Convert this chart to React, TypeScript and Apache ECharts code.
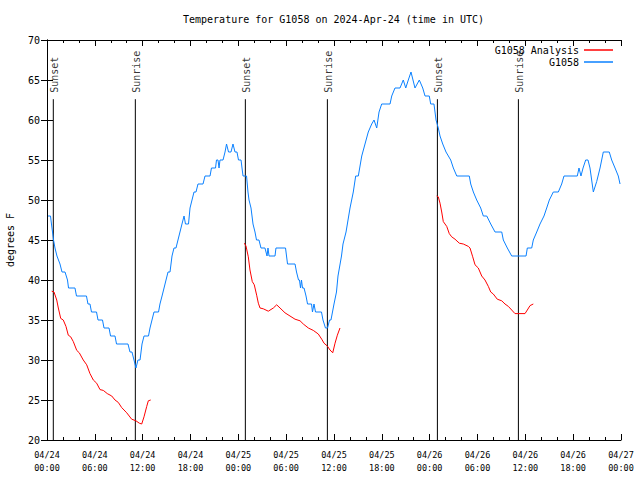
import React, { useEffect, useRef } from 'react';
import * as echarts from 'echarts';

// Observations (hours after 2024-04-24 00:00 UTC, degrees F)
const obsHours = [
  0.13, 0.44, 0.56, 0.69, 0.82, 1.0, 1.25, 1.63, 1.88, 2.26, 2.57, 2.7, 3.51, 3.7, 4.95, 5.14, 5.39, 5.58, 6.21, 6.4,
  6.96, 7.15, 7.78, 7.97, 8.53, 8.72, 10.16, 10.41, 10.66, 10.91, 11.16, 11.41, 11.67, 11.92, 12.17, 12.73, 12.92, 13.17, 13.42, 13.99,
  14.17, 14.43, 14.68, 14.93, 15.18, 15.43, 15.68, 15.93, 16.18, 16.43, 16.68, 16.93, 17.19, 17.37, 17.75, 17.94, 18.19, 18.44, 18.69, 18.94,
  19.57, 19.82, 20.45, 20.63, 21.14, 21.26, 21.45, 21.58, 21.7, 22.08, 22.33, 22.52, 22.77, 23.08, 23.33, 23.58, 23.83, 24.02, 24.34, 24.46,
  24.59, 25.03, 25.21, 25.34, 25.59, 25.84, 26.09, 26.28, 26.59, 26.84, 27.34, 27.6, 27.72, 27.85, 28.6, 28.72, 29.92, 30.17, 31.11, 31.3,
  31.55, 31.67, 31.8, 31.92, 32.05, 32.24, 32.49, 32.68, 33.18, 33.3, 33.49, 33.68, 34.43, 34.62, 34.93, 35.19, 35.44, 35.62, 36.0, 36.31,
  36.5, 36.94, 37.13, 37.51, 37.76, 38.01, 38.42, 38.72, 39.05, 39.48, 39.89, 40.3, 40.73, 41.02, 41.36, 41.65, 41.98, 43.03, 43.24, 43.65,
  44.28, 44.69, 45.0, 45.32, 45.66, 46.16, 46.7, 47.13, 47.42, 47.95, 48.13, 48.54, 48.8, 49.08, 49.3, 49.64, 50.05, 50.64, 50.97, 51.4,
  52.97, 53.15, 53.48, 53.9, 54.4, 54.73, 55.16, 55.66, 56.2, 57.04, 57.24, 57.74, 58.29, 60.09, 60.25, 60.8, 61.0, 61.43, 61.84, 62.34,
  62.68, 63.01, 63.51, 64.14, 64.56, 64.85, 66.52, 66.73, 66.98, 67.24, 67.57, 67.86, 68.11, 68.53, 68.95, 69.37, 69.78, 70.53, 70.83, 71.25,
  71.66, 71.88,
];
const obsTemps = [
  48, 48, 47, 46, 45, 44, 43, 42, 41, 41, 40, 39, 39, 38, 38, 37, 37, 36, 36, 35,
  35, 34, 34, 33, 33, 32, 32, 31, 31, 30, 29, 30, 30, 32, 33, 33, 34, 35, 36, 36,
  37, 38, 39, 40, 41, 41, 43, 44, 44, 45, 46, 47, 48, 47, 47, 49, 50, 51, 51, 52,
  52, 53, 53, 54, 54, 55, 55, 54, 55, 55, 56, 57, 56, 56, 57, 56, 56, 55, 55, 54,
  53, 53, 51, 50, 49, 47, 46, 45, 45, 44, 44, 43, 44, 43, 43, 44, 44, 42, 42, 41,
  40, 40, 39, 40, 39, 39, 38, 37, 37, 36, 37, 36, 36, 35, 34, 34, 35, 35, 37, 38.5,
  40.5, 43, 44.5, 46, 47.5, 49, 51, 53, 53, 55.5, 57, 58.5, 59.5, 60, 59, 61, 62, 62, 63, 64,
  64, 65, 64, 65, 66, 64, 65, 64, 63, 63, 62, 62, 60, 59, 58, 57, 56, 55, 54, 53,
  53, 52, 51, 50, 49, 48, 48, 47, 46, 46, 45, 44, 43, 43, 44, 44, 45, 46, 47, 48,
  49, 50, 51, 51, 52, 53, 53, 54, 53, 54, 55, 55, 54, 51, 52.3, 54, 56, 56, 55, 54,
  53, 52,
];

// Analysis, three overnight segments
const ana1Hours = [0.59, 0.88, 1.22, 1.42, 1.72, 2.04, 2.38, 2.67, 2.97, 3.3, 3.73, 4.05, 4.55, 4.98, 5.39, 5.81, 6.23, 6.65, 7.06, 7.56, 8.12, 8.53, 8.94, 9.37, 10.0, 10.62, 11.16, 11.58, 11.88, 12.17, 12.51, 12.71, 13.01];
const ana1Temps = [38.6, 38.5, 37.5, 36.5, 35.2, 35, 34.2, 33.1, 32.9, 32.3, 31.2, 30.9, 30, 29.4, 28.3, 27.5, 27.1, 26.3, 26.2, 25.8, 25.5, 25, 24.7, 24.05, 23.4, 22.6, 22.4, 22.1, 22, 22.9, 24.2, 24.9, 25];
const ana2Hours = [24.75, 24.96, 25.25, 25.46, 25.75, 26.0, 26.3, 26.51, 26.72, 27.13, 27.76, 28.39, 28.81, 29.23, 29.85, 30.48, 31.11, 31.74, 32.15, 32.78, 33.4, 34.03, 34.46, 34.75, 35.16, 35.5, 35.84, 36.13, 36.42, 36.75];
const ana2Temps = [44.6, 44.25, 42.9, 41.25, 39.8, 39.4, 38.1, 37.1, 36.5, 36.4, 36.1, 36.5, 36.9, 36.5, 35.9, 35.5, 35.1, 34.9, 34.5, 34, 33.7, 33.25, 32.6, 32.1, 31.75, 31.25, 30.9, 32.1, 33.1, 34];
const ana3Hours = [48.88, 49.08, 49.3, 49.51, 49.71, 50.14, 50.46, 50.76, 51.18, 51.72, 52.22, 52.85, 53.06, 53.4, 53.69, 54.1, 54.53, 54.94, 55.36, 55.66, 55.98, 56.48, 57.04, 57.45, 57.87, 58.29, 58.7, 59.96, 60.25, 60.59, 61.0];
const ana3Temps = [50.5, 50.4, 49.6, 48.5, 47.3, 46.7, 45.8, 45.4, 45.1, 44.6, 44.5, 44.2, 44, 42.9, 41.9, 41.5, 40.5, 40, 39.2, 38.5, 38.25, 37.6, 37.4, 37, 36.7, 36.25, 35.8, 35.8, 36.25, 36.8, 37];

const sunEventNames = ['Sunset', 'Sunrise', 'Sunset', 'Sunrise', 'Sunset', 'Sunrise'];
const sunEventHours = [0.79, 11.08, 24.88, 35.17, 48.97, 59.13];

const xTickLabels = [
  '04/24\n00:00', '04/24\n06:00', '04/24\n12:00', '04/24\n18:00',
  '04/25\n00:00', '04/25\n06:00', '04/25\n12:00', '04/25\n18:00',
  '04/26\n00:00', '04/26\n06:00', '04/26\n12:00', '04/26\n18:00',
  '04/27\n00:00',
];

const MONO = '"DejaVu Sans Mono", "Liberation Mono", monospace';

export default function App() {
  const ref = useRef<HTMLDivElement>(null);
  useEffect(() => {
    const chart = echarts.init(ref.current!, null, { renderer: 'svg' });
    const anaData: any[] = [];
    [[ana1Hours, ana1Temps], [ana2Hours, ana2Temps], [ana3Hours, ana3Temps]].forEach(([hs, ts], k) => {
      if (k > 0) anaData.push([hs[0] - 0.01, '-']);
      hs.forEach((h, i) => anaData.push([h, ts[i]]));
    });
    const obsData = obsHours.map((h, i) => [h, obsTemps[i]]);
    const sunLineData: any[] = [];
    sunEventHours.forEach((h, i) => {
      if (i > 0) sunLineData.push([h, '-']);
      sunLineData.push([h, 20]);
      sunLineData.push([h, 62.6]);
    });

    const xBase = {
      type: 'value', min: 0, max: 72, interval: 6,
      axisLine: { show: true, lineStyle: { color: '#000', width: 1 } },
      axisTick: { show: true, inside: true, length: 6, lineStyle: { color: '#000' } },
      minorTick: { show: true, splitNumber: 3, length: 3, lineStyle: { color: '#000' } },
      splitLine: { show: false },
    };
    const yBase = {
      type: 'value', min: 20, max: 70, interval: 5,
      axisLine: { show: true, lineStyle: { color: '#000', width: 1 } },
      axisTick: { show: true, inside: true, length: 6, lineStyle: { color: '#000' } },
      splitLine: { show: false },
    };

    chart.setOption({
      animation: false,
      backgroundColor: '#fff',
      title: {
        text: 'Temperature for G1058 on 2024-Apr-24 (time in UTC)',
        left: 183, top: 14, padding: 0,
        textStyle: { fontFamily: MONO, fontSize: 10, fontWeight: 'normal', color: '#000' },
      },
      grid: { left: 47, right: 19, top: 40, bottom: 40, containLabel: false, outerBoundsMode: 'none' },
      legend: [
        {
          data: ['G1058 Analysis'], right: 27, top: 45, orient: 'vertical', align: 'right',
          icon: 'rect', itemWidth: 29, itemHeight: 1.5, padding: 0,
          textStyle: { fontFamily: MONO, fontSize: 10, color: '#000' },
        },
        {
          data: ['G1058'], right: 27, top: 57, orient: 'vertical', align: 'right',
          icon: 'rect', itemWidth: 29, itemHeight: 1.5, padding: 0,
          textStyle: { fontFamily: MONO, fontSize: 10, color: '#000' },
        },
      ],
      xAxis: [
        {
          ...xBase, position: 'bottom',
          axisLabel: {
            formatter: (v: number) => xTickLabels[Math.round(v / 6)] ?? '',
            fontFamily: MONO, fontSize: 8.5, color: '#000', lineHeight: 13, margin: 8,
          },
        },
        { ...xBase, position: 'top', axisLabel: { show: false } },
      ],
      yAxis: [
        {
          ...yBase, position: 'left',
          axisLabel: { fontFamily: MONO, fontSize: 10, color: '#000', margin: 7 },
          name: 'degrees F', nameLocation: 'middle', nameGap: 32,
          nameTextStyle: { fontFamily: MONO, fontSize: 10, color: '#000' },
        },
        { ...yBase, position: 'right', axisLabel: { show: false } },
      ],
      series: [
        {
          name: 'sun-lines', type: 'line', data: sunLineData, symbol: 'none', silent: true,
          lineStyle: { color: '#000', width: 1 }, itemStyle: { color: '#000' },
        },
        {
          name: 'sun-labels', type: 'scatter', symbolSize: 0, silent: true,
          data: sunEventHours.map((h, i) => ({ value: [h, 63.4], name: sunEventNames[i] })),
          label: {
            show: true, formatter: '{b}', position: 'inside', rotate: 90, align: 'left', verticalAlign: 'middle',
            offset: [0, 1.5],
            fontFamily: MONO, fontSize: 10, color: '#000',
          },
        },
        {
          name: 'G1058 Analysis', type: 'line', data: anaData, symbol: 'none',
          lineStyle: { color: '#ff0000', width: 1 }, itemStyle: { color: '#ff0000' },
        },
        {
          name: 'G1058', type: 'line', data: obsData, symbol: 'none',
          lineStyle: { color: '#0a80ff', width: 1 }, itemStyle: { color: '#0a80ff' },
        },
      ],
    });
    return () => chart.dispose();
  }, []);
  return <div ref={ref} style={{ position: 'fixed', left: 0, top: 0, width: 640, height: 480, background: '#fff' }} />;
}
